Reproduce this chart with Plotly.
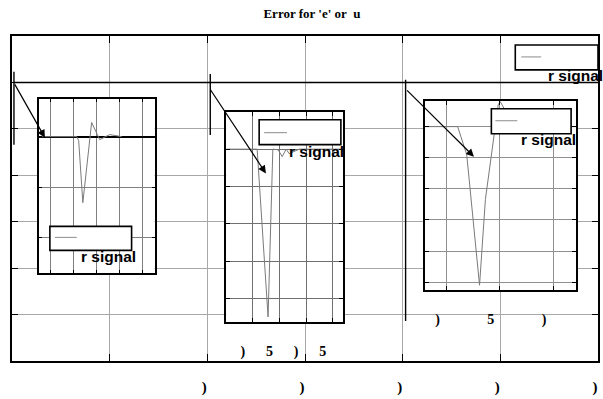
import plotly.graph_objects as go

# ---- data -------------------------------------------------------------
# overview trace: three runs, each starting with a short spike
main_t = [0.02, 0.02, 0.02, 0.02, 2.03, 2.03, 2.03, 2.03, 4.03, 4.03, 4.03, 4.03, 6.0]
main_e = [6.0, 6.23, 4.66, 6.0, 6.0, 6.18, 4.87, 6.0, 6.0, 6.06, 0.86, 6.0, 6.0]

# zoomed views of each spike
run1_t = [-0.5, 1.14, 1.22, 1.40, 1.78, 2.13, 2.56, 2.85, 3.08]
run1_e = [0.0, 0.0, -0.08, -1.31, 0.28, -0.06, 0.04, 0.01, 0.0]

run2_t = [0.0, 1.16, 1.57, 1.75, 1.95, 2.10, 2.25, 2.36, 2.75, 4.38]
run2_e = [0.0, 0.0, -4.49, 0.0, -0.02, -0.2, 0.0, -0.12, 0.0, 0.0]

run3_t = [0.59, 1.21, 1.38, 1.62, 1.73, 1.97, 2.01, 2.09, 2.30, 2.60, 3.43]
run3_e = [0.0, 0.0, -0.9, -5.1, -2.34, 0.7, 0.8, 0.55, -0.1, 0.0, 0.0]

# arrows from each spike on the overview to its zoomed view: (tail_t, tail_e, head_t, head_e)
arrows = [
    (0.02, 5.99, 0.337, 4.81),
    (2.02, 5.88, 2.60, 4.04),
    (4.03, 5.86, 4.73, 4.40),
]

main_ticks = [0, 1, 2, 3, 4, 5, 6]
main_ticktext = ["", "", ")", ")", ")", ")", ")"]
run2_ticks = [0, 1, 2, 3, 4]
run2_ticktext = ["", ")", "5", ")", "5"]
run3_ticks = [1, 2, 3]
run3_ticktext = [")", "5", ")"]

legend_label = "r signal"
title_text = "Error for 'e' or\u00a0 u"

# ---- layout helpers (pixel -> paper) -----------------------------------
W, H = 603, 399
L, R, T, B = 12, 3, 36, 37
PW, PH = W - L - R, H - T - B


def xp(px):
    return (px - L) / PW


def yp(py):
    return (H - B - py) / PH


fig = go.Figure()

fig.add_trace(go.Scatter(x=main_t, y=main_e, mode="lines",
                         line=dict(color="black", width=1.4),
                         xaxis="x", yaxis="y", showlegend=False))
fig.add_trace(go.Scatter(x=run1_t, y=run1_e, mode="lines",
                         line=dict(color="#7a7a7a", width=1),
                         xaxis="x2", yaxis="y2", showlegend=False))
fig.add_trace(go.Scatter(x=run2_t, y=run2_e, mode="lines",
                         line=dict(color="#7a7a7a", width=1),
                         xaxis="x3", yaxis="y3", showlegend=False))
fig.add_trace(go.Scatter(x=run3_t, y=run3_e, mode="lines",
                         line=dict(color="#7a7a7a", width=1),
                         xaxis="x4", yaxis="y4", showlegend=False))

tickfont = dict(family="Liberation Serif", size=15, color="black", weight="bold")

common_axis = dict(showline=True, linecolor="black", mirror="allticks",
                   ticks="inside", tickcolor="black", zeroline=False,
                   fixedrange=True)

layout = dict(
    width=W, height=H,
    margin=dict(l=L, r=R, t=T, b=B),
    paper_bgcolor="white", plot_bgcolor="white",
    title=dict(text="<b>" + title_text + "</b>", x=312 / W, xanchor="center",
               y=1 - 13 / H, yanchor="middle",
               font=dict(family="Liberation Serif", size=13, color="black")),
    xaxis=dict(domain=[0, 1], range=[0, 6], tickvals=main_ticks, ticktext=main_ticktext,
               showgrid=True, gridcolor="#a8a8a8", gridwidth=1, linewidth=2,
               ticklen=7, tickwidth=1.2, tickfont=tickfont,
               ticklabelstandoff=11, ticklabelshift=-3, anchor="y", **common_axis),
    yaxis=dict(domain=[0, 1], range=[0, 7], dtick=1, tick0=0,
               showgrid=True, gridcolor="#a8a8a8", gridwidth=1, linewidth=2,
               ticklen=6, tickwidth=1.2, showticklabels=False, anchor="x", **common_axis),
    # zoom of run 1
    xaxis2=dict(domain=[xp(39), xp(155)], range=[-0.5, 4.5], tickvals=[0, 1, 2, 3, 4],
                showgrid=True, gridcolor="#808080", linewidth=2, ticklen=3,
                showticklabels=False, anchor="y2", **common_axis),
    yaxis2=dict(domain=[yp(274), yp(99)], range=[-2.71, 0.75], dtick=1, tick0=0,
                showgrid=True, gridcolor="#808080", linewidth=2, ticklen=3,
                showticklabels=False, anchor="x2",
                **{**common_axis, "zeroline": True}, zerolinecolor="black", zerolinewidth=1.5),
    # zoom of run 2
    xaxis3=dict(domain=[xp(227), xp(344)], range=[0, 4.38], tickvals=run2_ticks,
                ticktext=run2_ticktext, tickfont=dict(tickfont, size=14),
                ticklabelstandoff=15, ticklabelshift=-10,
                showgrid=True, gridcolor="#707070", linewidth=2, ticklen=4,
                anchor="y3", **common_axis),
    yaxis3=dict(domain=[yp(323), yp(112)], range=[-4.63, 1.0], dtick=1, tick0=0,
                showgrid=True, gridcolor="#707070", linewidth=2, ticklen=4,
                showticklabels=False, anchor="x3", **common_axis),
    # zoom of run 3
    xaxis4=dict(domain=[xp(426), xp(578)], range=[0.59, 3.43], tickvals=run3_ticks,
                ticktext=run3_ticktext, tickfont=dict(tickfont, size=14),
                ticklabelstandoff=15, ticklabelshift=-9,
                showgrid=True, gridcolor="#909090", linewidth=2, ticklen=4,
                anchor="y4", **common_axis),
    yaxis4=dict(domain=[yp(291), yp(101)], range=[-5.26, 0.83], dtick=1, tick0=0,
                showgrid=True, gridcolor="#909090", linewidth=2, ticklen=4,
                showticklabels=False, anchor="x4", **common_axis),
)
fig.update_layout(**layout)

# arrows from the overview spikes to their zoomed views
for t0, e0, t1, e1 in arrows:
    fig.add_annotation(x=t1, y=e1, ax=t0, ay=e0, xref="x", yref="y",
                       axref="x", ayref="y", text="", showarrow=True,
                       arrowhead=2, arrowsize=1.3, arrowwidth=1.2,
                       arrowcolor="black", standoff=0, startstandoff=0)

# legend boxes: (box left, top, right, bottom, sample y, sample x0, sample x1, label x, label y)
legend_boxes = [
    (50, 227, 132, 251, 238, 55, 77, 79, 257),
    (260, 120, 342, 145, 133, 265, 288, 288, 152),
    (493, 109, 573, 134, 121, 497, 519, 521, 140),
    (517, 45, 600, 70, 57, 523, 543, 548, 76),
]
for bx0, by0, bx1, by1, sy, sx0, sx1, lx, ly in legend_boxes:
    fig.add_shape(type="rect", xref="paper", yref="paper",
                  x0=xp(bx0), x1=xp(bx1), y0=yp(by1), y1=yp(by0),
                  fillcolor="white", line=dict(color="black", width=1.6), layer="above")
    fig.add_shape(type="line", xref="paper", yref="paper",
                  x0=xp(sx0), x1=xp(sx1), y0=yp(sy), y1=yp(sy),
                  line=dict(color="#8c8c8c", width=1), layer="above")
    fig.add_annotation(x=xp(lx), y=yp(ly), xref="paper", yref="paper",
                       xanchor="left", yanchor="middle", showarrow=False,
                       text="<b>" + legend_label + "</b>",
                       font=dict(family="Liberation Sans", size=15.5, color="black"))

fig.write_html("out.html")
